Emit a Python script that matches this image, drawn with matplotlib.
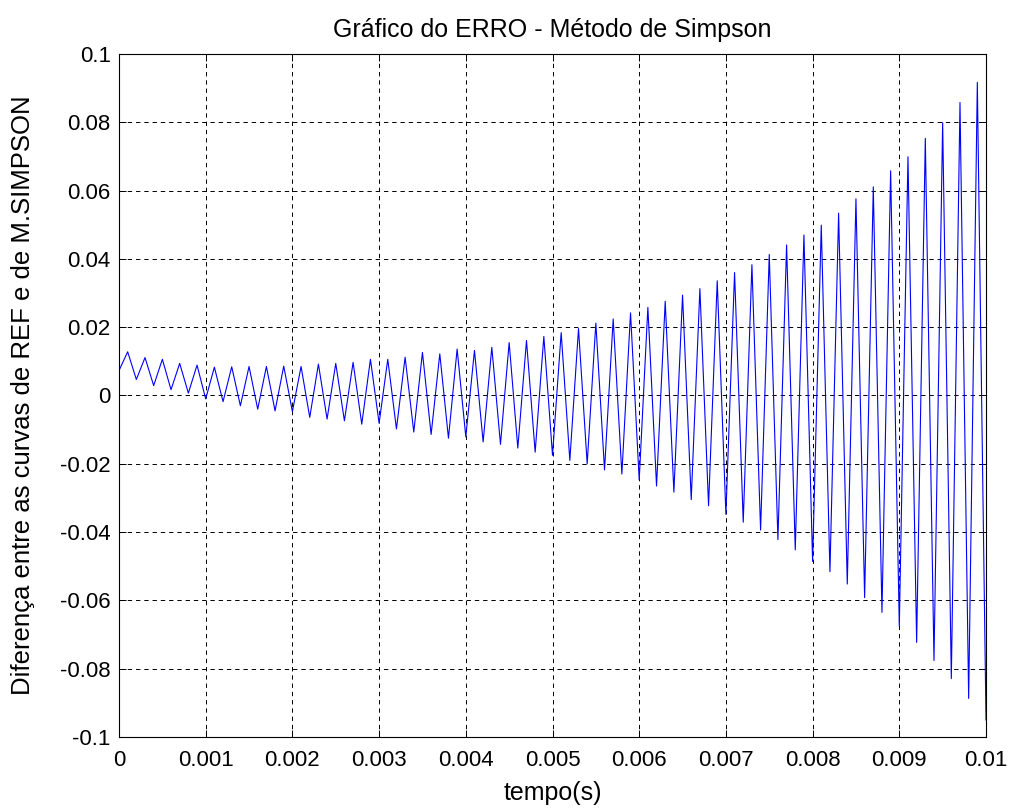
import matplotlib
matplotlib.use("Agg")
import matplotlib.pyplot as plt

# time samples (s) - uniform 0.0001 s grid
tempo = [round(i * 0.0001, 4) for i in range(101)]

erro = [
    0.0073, 0.0128, 0.0047, 0.0111, 0.0029, 0.0106, 0.0017, 0.0094, 0.0007, 0.0089,
    -0.0010, 0.0083, -0.0018, 0.0084, -0.0030, 0.0085, -0.0040, 0.0085, -0.0045, 0.0086,
    -0.0047, 0.0085, -0.0064, 0.0092, -0.0069, 0.0094, -0.0074, 0.0097, -0.0084, 0.0106,
    -0.0081, 0.0106, -0.0098, 0.0112, -0.0107, 0.0126, -0.0114, 0.0122, -0.0125, 0.0136,
    -0.0121, 0.0132, -0.0136, 0.0141, -0.0143, 0.0155, -0.0154, 0.0161, -0.0166, 0.0173,
    -0.0175, 0.0184, -0.0190, 0.0196, -0.0200, 0.0212, -0.0218, 0.0224, -0.0230, 0.0242,
    -0.0247, 0.0258, -0.0265, 0.0276, -0.0283, 0.0294, -0.0305, 0.0313, -0.0323, 0.0336,
    -0.0348, 0.0360, -0.0371, 0.0383, -0.0394, 0.0413, -0.0422, 0.0441, -0.0452, 0.0470,
    -0.0486, 0.0499, -0.0516, 0.0534, -0.0552, 0.0576, -0.0592, 0.0611, -0.0635, 0.0658,
    -0.0676, 0.0699, -0.0723, 0.0753, -0.0776, 0.0799, -0.0829, 0.0858, -0.0887, 0.0917,
    -0.0950,
]

xticks = [0, 0.001, 0.002, 0.003, 0.004, 0.005, 0.006, 0.007, 0.008, 0.009, 0.01]
xticklabels = ["0", "0.001", "0.002", "0.003", "0.004", "0.005", "0.006", "0.007", "0.008", "0.009", "0.01"]
yticks = [-0.1, -0.08, -0.06, -0.04, -0.02, 0, 0.02, 0.04, 0.06, 0.08, 0.1]
yticklabels = ["-0.1", "-0.08", "-0.06", "-0.04", "-0.02", "0", "0.02", "0.04", "0.06", "0.08", "0.1"]

plt.rcParams['font.family'] = ['Liberation Sans', 'DejaVu Sans']

W, H = 1015, 809
fig = plt.figure(figsize=(W / 100, H / 100), dpi=100)
left, right, top, bottom = 119, 986, 54, 737
ax = fig.add_axes([left / W, (H - bottom) / H, (right - left) / W, (bottom - top) / H])

ax.plot(tempo, erro, color=(0, 0, 1), linewidth=0.8)

ax.set_xlim(0, 0.01)
ax.set_ylim(-0.1, 0.1)
ax.set_xticks(xticks)
ax.set_xticklabels(xticklabels)
ax.set_yticks(yticks)
ax.set_yticklabels(yticklabels)

ax.grid(True, color='black', linestyle=(0, (4.5, 4)), linewidth=0.7)
ax.tick_params(direction='in', length=5, width=0.7, top=True, right=True,
               labelsize=16, colors='black')
ax.tick_params(axis='x', pad=9)
ax.tick_params(axis='y', pad=6)
for s in ax.spines.values():
    s.set_linewidth(0.8)

ax.set_title("Gráfico do ERRO - Método de Simpson", fontsize=18, pad=12)
ax.set_xlabel("tempo(s)", fontsize=18)
ax.set_ylabel("Diferença entre as curvas de REF e de M.SIMPSON", fontsize=18.5)
ax.xaxis.set_label_coords(0.5, -0.064)
ax.yaxis.set_label_coords(-0.097, 0.5)

fig.savefig("out.png", dpi=100)
